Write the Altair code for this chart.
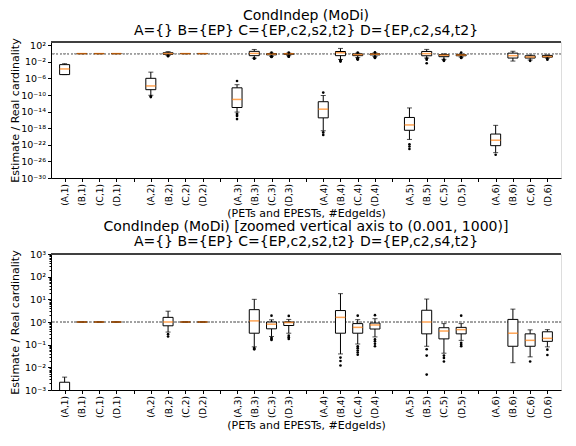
import altair as alt
import pandas as pd
import json
import math

# ---------------- data ----------------
labels = ["(A,1)", "(B,1)", "(C,1)", "(D,1)",
          "(A,2)", "(B,2)", "(C,2)", "(D,2)",
          "(A,3)", "(B,3)", "(C,3)", "(D,3)",
          "(A,4)", "(B,4)", "(C,4)", "(D,4)",
          "(A,5)", "(B,5)", "(C,5)", "(D,5)",
          "(A,6)", "(B,6)", "(C,6)", "(D,6)"]

whislo = [8.7e-6, 1, 1, 1,
          8.9e-11, 0.36, 1, 1,
          7.9e-15, 0.08, 0.23, 0.32,
          2.5e-19, 0.039, 0.107, 0.22,
          2.0e-21, 0.085, 0.042, 0.155,
          1.3e-24, 0.016, 0.029, 0.08]
q1 = [8.7e-6, 1, 1, 1,
      2.0e-9, 0.68, 1, 1,
      1.0e-13, 0.32, 0.50, 0.70,
      3.2e-16, 0.32, 0.32, 0.49,
      3.2e-19, 0.30, 0.18, 0.30,
      6.3e-23, 0.085, 0.085, 0.14]
med = [2.0e-4, 1, 1, 1,
       1.6e-8, 1.0, 1, 1,
       8.9e-12, 1.12, 0.80, 0.95,
       4.0e-14, 1.6, 0.58, 0.74,
       6.3e-18, 1.0, 0.40, 0.46,
       1.3e-21, 0.32, 0.155, 0.19]
q3 = [2.2e-3, 1, 1, 1,
      1.1e-6, 1.6, 1, 1,
      5.6e-9, 3.5, 1.0, 1.0,
      2.5e-12, 3.2, 0.85, 0.90,
      4.0e-16, 3.3, 0.56, 0.58,
      4.0e-20, 1.3, 0.30, 0.37]
whishi = [3.7e-3, 1, 1, 1,
          3.4e-5, 3.0, 1, 1,
          3.2e-8, 10.0, 1.25, 1.3,
          7.9e-11, 17.8, 1.27, 1.4,
          7.9e-14, 10.3, 0.85, 0.85,
          5.0e-18, 3.7, 0.45, 0.46]

flier_labels = ["(A,2)", "(A,2)",
                "(A,3)", "(A,3)", "(A,3)", "(A,3)", "(A,3)",
                "(A,4)", "(A,4)", "(A,4)",
                "(A,5)", "(A,5)", "(A,5)",
                "(A,6)",
                "(B,2)", "(B,2)",
                "(B,3)", "(B,3)",
                "(C,3)", "(C,3)", "(C,3)", "(C,3)",
                "(D,3)", "(D,3)", "(D,3)", "(D,3)",
                "(B,4)", "(B,4)", "(B,4)",
                "(C,4)", "(C,4)", "(C,4)", "(C,4)", "(C,4)", "(C,4)",
                "(D,4)", "(D,4)", "(D,4)", "(D,4)", "(D,4)",
                "(B,5)", "(B,5)", "(B,5)",
                "(C,5)", "(C,5)", "(C,5)",
                "(D,5)", "(D,5)", "(D,5)", "(D,5)",
                "(C,6)",
                "(D,6)", "(D,6)"]
flier_values = [5e-11, 3.2e-11,
                2.5e-7, 3.2e-15, 1.6e-15, 8.9e-16, 1.6e-16,
                4.0e-10, 1.0e-19, 2.5e-20,
                1.3e-22, 4.0e-23, 1.0e-23,
                4.0e-25,
                0.29, 0.23,
                0.07, 0.062,
                1.9, 0.20, 0.18, 0.16,
                1.85, 0.25, 0.21, 0.18,
                0.027, 0.019, 0.012,
                1.9, 0.085, 0.07, 0.055, 0.045, 0.036,
                2.0, 0.17, 0.14, 0.11, 0.085,
                0.063, 0.033, 0.0048,
                0.033, 0.026, 0.018,
                1.9, 0.12, 0.10, 0.085,
                0.018,
                0.06, 0.035]

title_top = ["CondIndep (MoDi)", "A={} B={EP} C={EP,c2,s2,t2} D={EP,c2,s4,t2}"]
title_bottom = ["CondIndep (MoDi) [zoomed vertical axis to (0.001, 1000)]",
                "A={} B={EP} C={EP,c2,s2,t2} D={EP,c2,s4,t2}"]
x_title = "(PETs and EPESTs, #EdgeIds)"
y_title = "Estimate / Real cardinality"

top_domain = [1e-30, 10 ** 2.8]
top_ticks = [1e2, 1e-2, 1e-6, 1e-10, 1e-14, 1e-18, 1e-22, 1e-26, 1e-30]
bottom_domain = [1e-3, 1e3]
bottom_major = [1e-3, 1e-2, 1e-1, 1e0, 1e1, 1e2, 1e3]
bottom_minor = [m * 10.0 ** k for k in range(-3, 3) for m in range(2, 10)]

# ---------------- tables ----------------
# slot index: groups of 4 boxes separated by one empty slot
pos_of = {lab: i + i // 4 + 1 for i, lab in enumerate(labels)}
n_slots = len(labels) + len(labels) // 4 - 1

boxes = pd.DataFrame({"label": labels, "whislo": whislo, "q1": q1, "med": med,
                      "q3": q3, "whishi": whishi})
boxes["pos"] = boxes["label"].map(pos_of)
fliers = pd.DataFrame({"label": flier_labels, "value": flier_values})
fliers["pos"] = fliers["label"].map(pos_of)

slot_text = [""] * (n_slots + 1)
for lab, p in pos_of.items():
    slot_text[p] = lab
x_label_expr = json.dumps(slot_text) + "[round(datum.value)]"

SUP = str.maketrans("-0123456789", "⁻⁰¹²³⁴⁵⁶⁷⁸⁹")


def y_label_expr(values):
    parts = []
    for v in values:
        e = int(round(math.log10(v)))
        parts.append(f"abs(log(datum.value)/LN10-({e}))<0.01 ? '10{str(e).translate(SUP)}'")
    return " : ".join(parts) + " : ''"


FONT = "DejaVu Sans"
W, H = 510, 136


def panel(domain, tick_values, major_values, title, show_minor):
    xscale = alt.Scale(domain=[0.5, n_slots + 0.5], nice=False, zero=False)
    xaxis = alt.Axis(values=list(range(1, n_slots + 1)), labelExpr=x_label_expr,
                     labelAngle=-90, labelFontSize=9, labelFont=FONT, labelPadding=2,
                     labelOverlap=False, labelFlush=False, labelBound=False,
                     tickSize=3.5, tickColor="black", domainColor="black",
                     labelColor="black", grid=False, title=x_title, titleFont=FONT,
                     titleFontSize=11, titleFontWeight="normal",
                     titleY=38, titleBaseline="alphabetic", titleColor="black")
    if show_minor:
        tick_size = {"condition": {"test": "abs(log(datum.value)/LN10-round(log(datum.value)/LN10))<0.01",
                                   "value": 3.5}, "value": 2}
    else:
        tick_size = 3.5
    yscale = alt.Scale(type="log", domain=domain, nice=False)
    yaxis = alt.Axis(values=tick_values, labelExpr=y_label_expr(major_values), labelFontSize=9.5,
                     labelFont=FONT, labelColor="black", labelPadding=2, tickSize=tick_size,
                     tickColor="black", domainColor="black", grid=False, title=y_title,
                     titleFont=FONT, titleFontSize=11, titleFontWeight="normal",
                     titleColor="black", titleX=-33, titleY=H / 2, titleBaseline="alphabetic",
                     titleAngle=-90, titleAlign="center",
                     labelFlush=False, labelOverlap=False)

    def X(field):
        return alt.X(field, type="quantitative", scale=xscale, axis=xaxis)

    def Y(field):
        return alt.Y(field, type="quantitative", scale=yscale, axis=yaxis)

    base = alt.Chart(boxes)
    ref = base.mark_rule(color="#a0a0a0", strokeDash=[1.5, 2.2], strokeWidth=1).encode(
        y=alt.datum(1, scale=yscale, axis=yaxis))
    topline = base.mark_rule(color="#404040", strokeWidth=1).encode(
        y=alt.datum(domain[1], scale=yscale, axis=yaxis))
    wlo = base.mark_rule(color="black", strokeWidth=1, clip=True).encode(
        x=X("pos"), y=Y("whislo"), y2="q1:Q")
    whi = base.mark_rule(color="black", strokeWidth=1, clip=True).encode(
        x=X("pos"), y=Y("q3"), y2="whishi:Q")
    cap_lo = base.mark_tick(color="black", orient="horizontal", size=5, thickness=1, clip=True).encode(
        x=X("pos"), y=Y("whislo"))
    cap_hi = base.mark_tick(color="black", orient="horizontal", size=5, thickness=1, clip=True).encode(
        x=X("pos"), y=Y("whishi"))
    box = base.mark_bar(size=10, fill="white", stroke="black", strokeWidth=1, clip=True).encode(
        x=X("pos"), y=Y("q1"), y2="q3:Q")
    median = base.mark_tick(color="#ff7f0e", orient="horizontal", size=10, thickness=1.5,
                            clip=True).encode(x=X("pos"), y=Y("med"))
    fl = alt.Chart(fliers).mark_circle(color="black", size=7, opacity=1, clip=True).encode(
        x=X("pos"), y=Y("value"))
    return alt.layer(ref, wlo, whi, cap_lo, cap_hi, box, median, fl, topline).properties(
        width=W, height=H,
        title=alt.TitleParams(text=title, fontSize=14, fontWeight="normal", font=FONT,
                              anchor="middle", offset=0, lineHeight=15, color="black"))


top = panel(top_domain, top_ticks, top_ticks, title_top, False)
bottom = panel(bottom_domain, bottom_major + bottom_minor, bottom_major, title_bottom, True)

chart = alt.vconcat(top, bottom, spacing=0).properties(
    padding={"left": 0, "top": 0, "right": 0, "bottom": 0}
).configure_view(stroke=None).configure(background="white")

chart.save("out.html", embed_options={"renderer": "svg", "actions": False})
